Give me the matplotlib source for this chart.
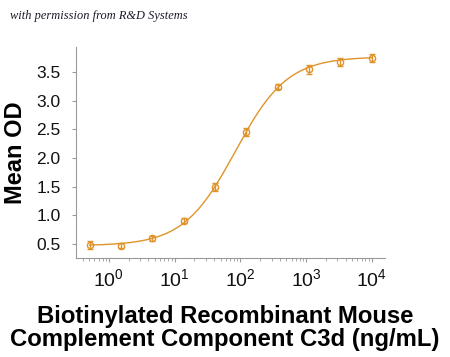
import numpy as np
import matplotlib
matplotlib.use("Agg")
import matplotlib.pyplot as plt
from matplotlib.ticker import LogLocator, NullFormatter

# measured points (3-fold dilution series)
conc = [0.508, 1.52, 4.57, 13.7, 41.2, 123, 370, 1111, 3333, 10000]
mean_od = [0.48, 0.47, 0.60, 0.91, 1.50, 2.46, 3.25, 3.55, 3.67, 3.75]
od_err = [0.07, 0.04, 0.04, 0.04, 0.07, 0.07, 0.05, 0.08, 0.07, 0.07]

# 4PL fit parameters for the curve
fit_bottom = 0.47
fit_top = 3.77
fit_ec50 = 84.0
fit_hill = 1.10

orange = "#E0932A"
grey = "#9a9a9a"

plt.rcParams["font.family"] = ["Liberation Sans", "DejaVu Sans"]

fig = plt.figure(figsize=(4.5, 3.57), dpi=100)
ax = fig.add_axes([76 / 450, 1 - 258 / 357, (385 - 76) / 450, (258 - 47) / 357])

xs = np.logspace(np.log10(conc[0]), np.log10(conc[-1]), 300)
ys = fit_bottom + (fit_top - fit_bottom) / (1 + (fit_ec50 / xs) ** fit_hill)
ax.plot(xs, ys, color=orange, lw=1.0, zorder=2)
ax.errorbar(conc, mean_od, yerr=od_err, fmt="o", ms=4.5, mfc="none", mec=orange,
            mew=1.0, ecolor=orange, elinewidth=1.0, capsize=2.5, capthick=1.0, zorder=3)

ax.set_xscale("log")
ax.set_xlim(10 ** -0.5, 10 ** 4.2)
ax.set_ylim(0.256, 3.94)
ax.set_yticks([0.5, 1.0, 1.5, 2.0, 2.5, 3.0, 3.5])
ax.set_yticklabels(["0.5", "1.0", "1.5", "2.0", "2.5", "3.0", "3.5"])
ax.xaxis.set_major_locator(LogLocator(base=10, numticks=10))
ax.xaxis.set_minor_locator(LogLocator(base=10, subs=np.arange(2, 10), numticks=10))
ax.xaxis.set_minor_formatter(NullFormatter())

for s in ["top", "right"]:
    ax.spines[s].set_visible(False)
for s in ["left", "bottom"]:
    ax.spines[s].set_color(grey)
    ax.spines[s].set_linewidth(0.8)

ax.tick_params(axis="both", which="major", direction="out", length=3, width=0.8,
               color=grey, labelsize=12.5, labelcolor="#111111")
ax.tick_params(axis="y", which="major", pad=8)
ax.tick_params(axis="x", which="major", pad=4, labelsize=14)
ax.tick_params(axis="x", which="minor", direction="out", length=1.8, width=0.6, color=grey)

ax.set_ylabel("Mean OD", fontsize=17, fontweight="bold", labelpad=7)
fig.text(0.5, 1 - 328 / 357, "Biotinylated Recombinant Mouse\nComplement Component C3d (ng/mL)",
         ha="center", va="center", fontsize=17.2, fontweight="bold", linespacing=1.0)

fig.text(10 / 450, 1 - 16 / 357, "with permission from R&D Systems", fontsize=8.9,
         family="Liberation Serif", style="italic", color="#1a1a2a", va="center")

fig.savefig("out.png", dpi=100)
